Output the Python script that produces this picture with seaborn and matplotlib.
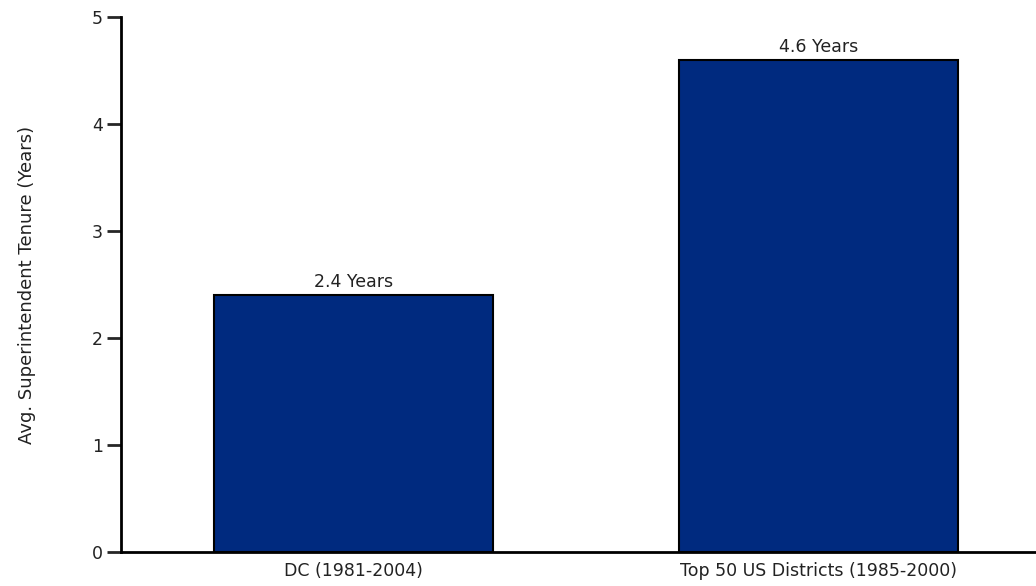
import matplotlib
matplotlib.use("Agg")
import matplotlib.pyplot as plt
import seaborn as sns
import pandas as pd

# DATA
categories = ["DC (1981-2004)", "Top 50 US Districts (1985-2000)"]
tenure = [2.4, 4.6]
bar_labels = ["2.4 Years", "4.6 Years"]

df = pd.DataFrame({"group": categories, "tenure": tenure})

sns.set_style("white")
plt.rcParams["font.family"] = ["DejaVu Sans"]

fig = plt.figure(figsize=(10.36, 5.86), dpi=100)
ax = fig.add_axes([121 / 1036, 34 / 586, (1036 - 121) / 1036, 535 / 586])

sns.barplot(x="group", y="tenure", data=df, color="#002a7f",
            width=0.6, edgecolor="black", linewidth=1.5, ax=ax,
            saturation=1)

for i, (v, lab) in enumerate(zip(tenure, bar_labels)):
    ax.text(i, v + 0.04, lab, ha="center", va="bottom", fontsize=12.5,
            color="#222222")

ax.set_xlim(-0.5, 1.467)
ax.set_ylim(0, 5)
ax.set_yticks([0, 1, 2, 3, 4, 5])
ax.set_xlabel("")
ax.set_ylabel("Avg. Superintendent Tenure (Years)", fontsize=13,
              color="#222222", labelpad=40)

sns.despine(ax=ax, top=True, right=True)
ax.spines["left"].set_linewidth(2)
ax.spines["bottom"].set_linewidth(2)
ax.spines["left"].set_color("black")
ax.spines["bottom"].set_color("black")
ax.tick_params(axis="y", direction="out", length=10, width=2, left=True,
               labelsize=12.5, labelcolor="#222222", pad=3)
ax.tick_params(axis="x", bottom=False, labelsize=12.5, labelcolor="#222222",
               pad=4)

fig.savefig("out.png", dpi=100)
